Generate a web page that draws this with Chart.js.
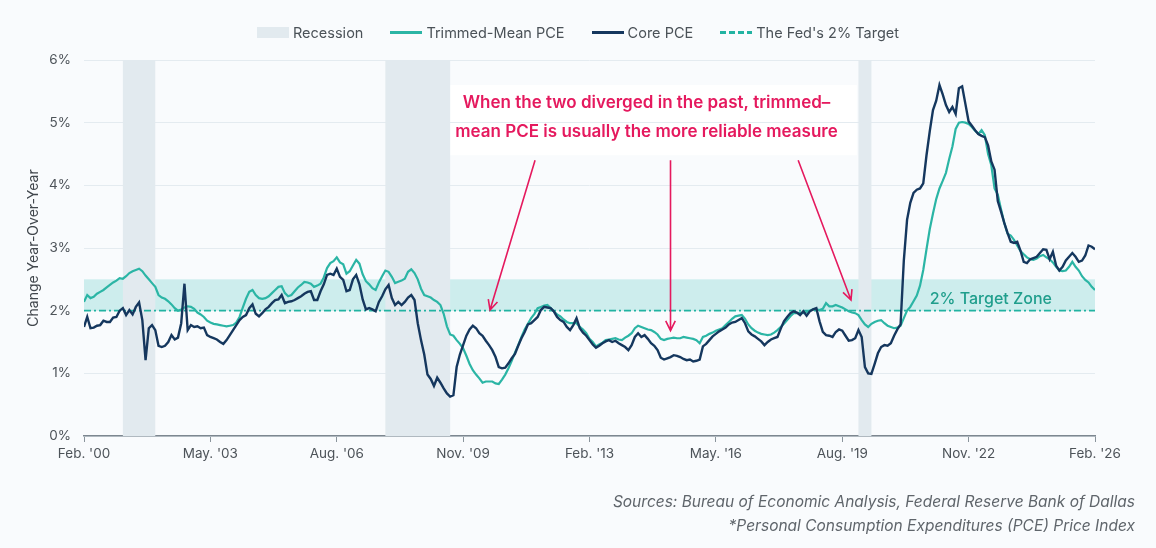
<!DOCTYPE html>
<html>
<head>
<meta charset="utf-8">
<title>Trimmed-Mean PCE vs Core PCE</title>
<script src="https://cdn.jsdelivr.net/npm/chart.js@4.4.1/dist/chart.umd.min.js"></script>
<style>
  html, body { margin: 0; padding: 0; background: #f9fbfd; }
  #wrap { position: relative; width: 1156px; height: 548px; font-family: Inter, "Noto Sans", sans-serif; }
  #chart { position: absolute; left: 0; top: 0; }
  #legend { position: absolute; top: 23px; left: 0; width: 1156px; display: flex; justify-content: center; gap: 27px; font-size: 14.5px; color: #4b5258; }
  .item { display: flex; align-items: center; gap: 4px; height: 18px; }
  .sw { width: 32px; display: inline-block; }
  .footer { position: absolute; right: 21px; font-style: italic; font-size: 15.5px; color: #5f656b; white-space: nowrap; }
</style>
</head>
<body>
<div id="wrap">
  <canvas id="chart" width="1156" height="548"></canvas>
  <div id="legend">
    <div class="item"><span class="sw" style="height:11px;background:#e2eaef"></span>Recession</div>
    <div class="item"><span class="sw" style="height:3px;background:#2bb5a5"></span>Trimmed-Mean PCE</div>
    <div class="item"><span class="sw" style="height:3px;background:#15375e"></span>Core PCE</div>
    <div class="item"><span class="sw" style="height:3px;background:repeating-linear-gradient(90deg,#22b3a2 0 6px,transparent 6px 9px)"></span>The Fed's 2% Target</div>
  </div>
  <div class="footer" style="top:492px">Sources: Bureau of Economic Analysis, Federal Reserve Bank of Dallas</div>
  <div class="footer" style="top:516px">*Personal Consumption Expenditures (PCE) Price Index</div>
</div>
<script>
// months counted from Feb 2000 (0) to Feb 2026 (312)
const tickMonths = [0, 39, 78, 117, 156, 195, 234, 273, 312];
const tickLabels = ["Feb. '00", "May. '03", "Aug. '06", "Nov. '09", "Feb. '13", "May. '16", "Aug. '19", "Nov. '22", "Feb. '26"];

// recessions (month index, shaded from month before peak to month after trough)
const recessionStart = [12, 93, 239];
const recessionEnd = [22, 113, 243];

const fedTarget = 2;
const targetZone = [2, 2.5];

// year-over-year %, monthly
const trimmedMean = [
  2.14, 2.25, 2.20, 2.22, 2.27, 2.30, 2.33, 2.37, 2.41, 2.45, 2.48, 2.52,
  2.51, 2.55, 2.60, 2.63, 2.65, 2.67, 2.63, 2.56, 2.50, 2.44, 2.38, 2.25,
  2.21, 2.19, 2.15, 2.10, 2.04, 2.00, 2.02, 2.05, 2.07, 2.06, 2.03, 1.97,
  1.94, 1.90, 1.84, 1.81, 1.79, 1.78, 1.77, 1.76, 1.75, 1.76, 1.77, 1.81,
  1.90, 2.05, 2.19, 2.30, 2.33, 2.25, 2.20, 2.19, 2.20, 2.23, 2.28, 2.33,
  2.38, 2.39, 2.28, 2.23, 2.25, 2.31, 2.37, 2.41, 2.46, 2.45, 2.43, 2.38,
  2.40, 2.43, 2.53, 2.68, 2.76, 2.79, 2.85, 2.77, 2.74, 2.59, 2.63, 2.72,
  2.81, 2.75, 2.58, 2.47, 2.42, 2.36, 2.33, 2.45, 2.55, 2.64, 2.62, 2.54,
  2.44, 2.46, 2.48, 2.51, 2.62, 2.66, 2.60, 2.50, 2.35, 2.25, 2.23, 2.21,
  2.17, 2.14, 2.09, 1.95, 1.75, 1.62, 1.60, 1.53, 1.47, 1.40, 1.28, 1.15,
  1.05, 0.98, 0.92, 0.85, 0.87, 0.87, 0.87, 0.84, 0.83, 0.90, 0.98, 1.08,
  1.20, 1.33, 1.45, 1.58, 1.70, 1.79, 1.88, 1.95, 2.04, 2.06, 2.08, 2.09,
  2.04, 1.99, 1.94, 1.91, 1.86, 1.82, 1.80, 1.80, 1.80, 1.74, 1.70, 1.64,
  1.55, 1.50, 1.43, 1.46, 1.49, 1.53, 1.54, 1.55, 1.56, 1.54, 1.53, 1.57,
  1.60, 1.64, 1.72, 1.76, 1.74, 1.72, 1.70, 1.69, 1.66, 1.62, 1.55, 1.53,
  1.55, 1.56, 1.57, 1.56, 1.56, 1.58, 1.57, 1.56, 1.55, 1.53, 1.48, 1.58,
  1.60, 1.63, 1.65, 1.68, 1.70, 1.72, 1.77, 1.82, 1.87, 1.91, 1.92, 1.93,
  1.87, 1.78, 1.72, 1.68, 1.65, 1.63, 1.62, 1.61, 1.62, 1.65, 1.69, 1.74,
  1.79, 1.85, 1.91, 1.96, 1.96, 1.97, 1.96, 1.98, 2.00, 2.02, 2.02, 2.01,
  2.03, 2.12, 2.07, 2.07, 2.09, 2.07, 2.05, 2.02, 1.99, 1.97, 1.96, 1.93,
  1.85, 1.78, 1.74, 1.79, 1.82, 1.84, 1.85, 1.80, 1.76, 1.74, 1.72, 1.73,
  1.76, 1.88, 2.00, 2.06, 2.15, 2.24, 2.40, 2.65, 2.98, 3.30, 3.55, 3.78,
  3.95, 4.07, 4.20, 4.42, 4.62, 4.90, 5.00, 5.01, 5.00, 4.98, 4.93, 4.87,
  4.82, 4.88, 4.80, 4.50, 4.32, 3.95, 3.85, 3.62, 3.40, 3.23, 3.20, 3.13,
  3.04, 2.95, 2.90, 2.85, 2.82, 2.81, 2.83, 2.87, 2.89, 2.85, 2.82, 2.77,
  2.70, 2.64, 2.63, 2.64, 2.70, 2.78, 2.70, 2.64, 2.55, 2.49, 2.45, 2.38,
  2.33
];

const corePce = [
  1.74, 1.90, 1.72, 1.73, 1.76, 1.77, 1.84, 1.82, 1.82, 1.89, 1.90, 2.00,
  2.04, 1.93, 2.01, 1.94, 2.06, 2.13, 1.85, 1.21, 1.72, 1.77, 1.69, 1.44,
  1.42, 1.44, 1.50, 1.61, 1.54, 1.57, 1.80, 2.43, 1.69, 1.77, 1.74, 1.75,
  1.72, 1.73, 1.61, 1.58, 1.56, 1.54, 1.50, 1.47, 1.53, 1.61, 1.69, 1.77,
  1.85, 1.90, 1.93, 2.04, 2.10, 1.95, 1.91, 1.96, 2.02, 2.06, 2.12, 2.17,
  2.18, 2.25, 2.12, 2.14, 2.15, 2.17, 2.20, 2.23, 2.27, 2.30, 2.31, 2.17,
  2.17, 2.31, 2.42, 2.57, 2.59, 2.57, 2.67, 2.54, 2.49, 2.31, 2.33, 2.50,
  2.57, 2.42, 2.18, 2.02, 2.04, 2.02, 1.99, 2.14, 2.23, 2.34, 2.41, 2.20,
  2.09, 2.14, 2.09, 2.14, 2.21, 2.25, 2.17, 1.80, 1.53, 1.30, 0.98, 0.91,
  0.80, 0.93, 0.85, 0.76, 0.68, 0.63, 0.65, 1.10, 1.30, 1.45, 1.60, 1.70,
  1.76, 1.72, 1.64, 1.60, 1.52, 1.45, 1.37, 1.26, 1.10, 1.08, 1.09, 1.16,
  1.24, 1.31, 1.44, 1.56, 1.66, 1.78, 1.80, 1.85, 1.90, 2.01, 2.06, 2.05,
  2.04, 1.99, 1.90, 1.85, 1.82, 1.74, 1.69, 1.77, 1.88, 1.72, 1.65, 1.60,
  1.53, 1.46, 1.41, 1.44, 1.48, 1.51, 1.53, 1.50, 1.52, 1.48, 1.45, 1.42,
  1.37, 1.45, 1.58, 1.64, 1.58, 1.61, 1.55, 1.48, 1.44, 1.37, 1.25, 1.22,
  1.24, 1.26, 1.29, 1.28, 1.26, 1.23, 1.21, 1.22, 1.19, 1.20, 1.22, 1.43,
  1.47, 1.53, 1.59, 1.63, 1.67, 1.70, 1.73, 1.78, 1.81, 1.82, 1.85, 1.88,
  1.80, 1.67, 1.62, 1.59, 1.55, 1.51, 1.45, 1.50, 1.54, 1.56, 1.58, 1.71,
  1.83, 1.90, 1.96, 1.99, 1.97, 1.93, 1.99, 1.92, 1.99, 2.02, 2.04, 1.83,
  1.66, 1.61, 1.60, 1.58, 1.66, 1.70, 1.68, 1.60, 1.52, 1.53, 1.56, 1.69,
  1.58, 1.10, 1.00, 0.99, 1.15, 1.32, 1.42, 1.45, 1.44, 1.48, 1.60, 1.70,
  1.78, 2.80, 3.45, 3.72, 3.88, 3.93, 3.95, 4.03, 4.48, 4.86, 5.20, 5.35,
  5.60, 5.45, 5.28, 5.17, 5.25, 5.14, 5.55, 5.58, 5.30, 5.02, 4.95, 4.88,
  4.82, 4.79, 4.77, 4.64, 4.38, 4.25, 3.75, 3.58, 3.40, 3.24, 3.10, 3.08,
  3.10, 2.96, 2.78, 2.76, 2.82, 2.84, 2.86, 2.92, 2.98, 2.97, 2.82, 2.94,
  2.72, 2.64, 2.70, 2.80, 2.86, 2.92, 2.86, 2.78, 2.80, 2.88, 3.04, 3.02,
  2.98
];

const noteLines = ['When the two diverged in the past, trimmed\u2013', 'mean PCE is usually the more reliable measure'];

const TEAL = '#2bb5a5';
const NAVY = '#15375e';
const PINK = '#e5195e';

const toPoints = arr => arr.map((v, i) => ({ x: i, y: v }));

function drawArrow(ctx, x0, y0, x1, y1) {
  const ang = Math.atan2(y1 - y0, x1 - x0);
  const head = 11;
  ctx.beginPath();
  ctx.moveTo(x0, y0);
  ctx.lineTo(x1, y1);
  ctx.moveTo(x1 - head * Math.cos(ang - 0.45), y1 - head * Math.sin(ang - 0.45));
  ctx.lineTo(x1, y1);
  ctx.lineTo(x1 - head * Math.cos(ang + 0.45), y1 - head * Math.sin(ang + 0.45));
  ctx.stroke();
}

// shaded bands, note box, arrows and labels
const overlayPlugin = {
  id: 'overlay',
  beforeDraw(chart) {
    const { ctx, scales: { x, y } } = chart;
    ctx.save();
    ctx.fillStyle = '#ffffff';
    const l = x.getPixelForValue(113), r = x.getPixelForValue(238.5);
    const t = y.getPixelForValue(5.6), b = y.getPixelForValue(4.48);
    ctx.fillRect(l, t, r - l, b - t);
    ctx.restore();
  },
  beforeDatasetsDraw(chart) {
    const { ctx, chartArea: a, scales: { x, y } } = chart;
    ctx.save();
    ctx.fillStyle = '#cdeded';
    const zt = y.getPixelForValue(targetZone[1]), zb = y.getPixelForValue(targetZone[0]);
    ctx.fillRect(a.left, zt, a.right - a.left, zb - zt);
    ctx.fillStyle = '#e2eaef';
    recessionStart.forEach((s, i) => {
      const l = x.getPixelForValue(s), r = x.getPixelForValue(recessionEnd[i]);
      ctx.fillRect(l, a.top, r - l, a.bottom - a.top);
    });
    ctx.restore();
  },
  afterDatasetsDraw(chart) {
    const { ctx, scales: { x, y } } = chart;
    ctx.save();
    ctx.fillStyle = '#1f9e8c';
    ctx.font = '500 16px Inter, "Noto Sans", sans-serif';
    ctx.textBaseline = 'middle';
    ctx.fillText('2% Target Zone', x.getPixelForValue(261), y.getPixelForValue(2.18));

    ctx.fillStyle = PINK;
    ctx.font = '600 17px Inter, "Noto Sans", sans-serif';
    ctx.textAlign = 'center';
    const cx = x.getPixelForValue(173.6);
    ctx.fillText(noteLines[0], cx, y.getPixelForValue(5.31));
    ctx.fillText(noteLines[1], cx, y.getPixelForValue(4.85));

    ctx.strokeStyle = PINK;
    ctx.lineWidth = 1.6;
    const P = (m, v) => [x.getPixelForValue(m), y.getPixelForValue(v)];
    drawArrow(ctx, ...P(139.2, 4.40), ...P(125.3, 2.01));
    drawArrow(ctx, ...P(181, 4.40), ...P(181, 1.68));
    drawArrow(ctx, ...P(220.4, 4.40), ...P(236.7, 2.17));
    ctx.restore();
  }
};

new Chart(document.getElementById('chart'), {
  type: 'line',
  data: {
    datasets: [
      {
        label: 'Core PCE',
        data: toPoints(corePce),
        borderColor: NAVY,
        borderWidth: 2.4,
        pointRadius: 0,
        tension: 0,
        order: 0
      },
      {
        label: 'Trimmed-Mean PCE',
        data: toPoints(trimmedMean),
        borderColor: TEAL,
        borderWidth: 2.2,
        pointRadius: 0,
        tension: 0,
        order: 1
      },
      {
        label: "The Fed's 2% Target",
        data: [{ x: 0, y: fedTarget }, { x: trimmedMean.length - 1, y: fedTarget }],
        borderColor: '#22b3a2',
        borderWidth: 1.6,
        borderDash: [7, 3, 2, 3],
        pointRadius: 0,
        order: 2
      }
    ]
  },
  options: {
    responsive: false,
    animation: false,
    layout: { padding: { top: 60, left: 0, right: 61, bottom: 82 } },
    plugins: {
      legend: { display: false },
      tooltip: { enabled: false }
    },
    scales: {
      x: {
        type: 'linear',
        min: 0,
        max: 312,
        afterBuildTicks: s => { s.ticks = tickMonths.map(v => ({ value: v })); },
        afterFit: s => { s.height = 30; },
        ticks: {
          autoSkip: false,
          maxRotation: 0,
          padding: 4,
          color: '#4d5359',
          font: { family: 'Inter', size: 13.5 },
          callback: (v, i) => tickLabels[i]
        },
        grid: { drawOnChartArea: false, drawTicks: true, tickLength: 6, color: '#8a949c' },
        border: { display: true, color: '#7d8790', width: 1.5 }
      },
      y: {
        min: 0,
        max: 6,
        afterFit: s => { s.width = 84; },
        ticks: {
          stepSize: 1,
          padding: 13,
          color: '#4d5359',
          font: { family: 'Inter', size: 13.5 },
          callback: v => v + '%'
        },
        grid: { color: '#e4ebf0', lineWidth: 1, drawTicks: false },
        border: { display: false },
        title: {
          display: true,
          text: 'Change Year-Over-Year',
          color: '#41474d',
          font: { family: 'Inter', size: 14 },
          padding: { top: 25, bottom: 0 }
        }
      }
    }
  },
  plugins: [overlayPlugin]
});
</script>
</body>
</html>
